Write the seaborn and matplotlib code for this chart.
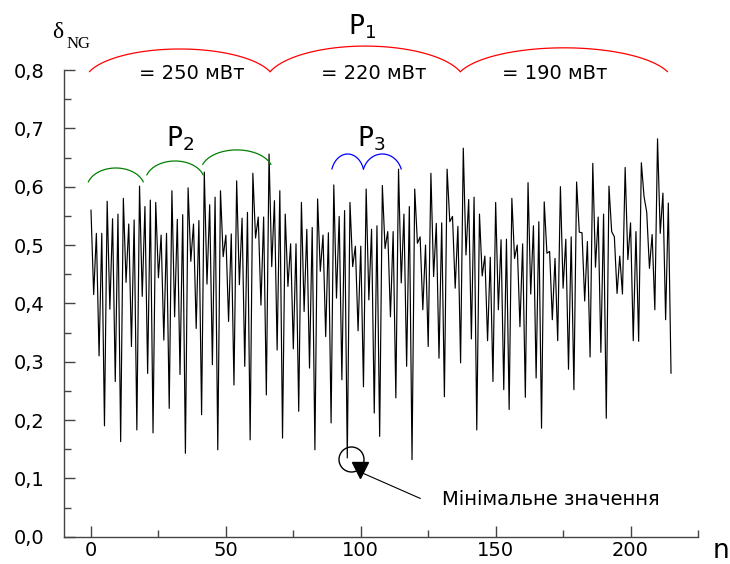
import numpy as np
import pandas as pd
import seaborn as sns
import matplotlib
matplotlib.use('Agg')
import matplotlib.pyplot as plt
from matplotlib.ticker import MultipleLocator, FuncFormatter

delta_ng = [
    0.56, 0.415, 0.52, 0.31, 0.52, 0.19, 0.575, 0.39, 0.545, 0.266,
    0.553, 0.163, 0.58, 0.436, 0.536, 0.326, 0.543, 0.183, 0.601, 0.412,
    0.566, 0.28, 0.577, 0.178, 0.573, 0.444, 0.517,
    0.337, 0.52, 0.22, 0.593, 0.377, 0.544, 0.278, 0.552, 0.143, 0.598,
    0.472, 0.536, 0.357, 0.542, 0.209, 0.625, 0.433, 0.569, 0.295, 0.582,
    0.149, 0.593, 0.48, 0.517, 0.369, 0.519, 0.26, 0.61,
    0.432, 0.546, 0.292, 0.556, 0.166, 0.623, 0.512, 0.548, 0.397, 0.548,
    0.243, 0.656, 0.463, 0.576, 0.32, 0.593, 0.169, 0.553, 0.429, 0.502,
    0.322, 0.502, 0.215, 0.573, 0.386, 0.527, 0.289, 0.53,
    0.149, 0.579, 0.455, 0.517, 0.343, 0.521, 0.195, 0.603, 0.409, 0.549,
    0.269, 0.559, 0.135, 0.573, 0.463, 0.498, 0.353, 0.498, 0.257, 0.596,
    0.406, 0.527, 0.212, 0.533, 0.172, 0.602, 0.494,
    0.523, 0.377, 0.523, 0.238, 0.630, 0.435, 0.553, 0.292, 0.566, 0.132,
    0.596, 0.503, 0.514, 0.389, 0.500, 0.326, 0.623, 0.446, 0.537, 0.306,
    0.538, 0.240, 0.630, 0.540, 0.549, 0.426, 0.532, 0.298,
    0.666, 0.483, 0.578, 0.339, 0.582, 0.183, 0.553, 0.447, 0.481, 0.336,
    0.479, 0.266, 0.573, 0.389, 0.509, 0.252, 0.510, 0.218, 0.580, 0.477,
    0.500, 0.360, 0.502, 0.239, 0.607, 0.416, 0.533, 0.272,
    0.540, 0.186, 0.574, 0.486, 0.489, 0.372, 0.477, 0.336, 0.600, 0.426,
    0.510, 0.287, 0.514, 0.252, 0.608, 0.522, 0.521, 0.404, 0.506, 0.308,
    0.640, 0.462, 0.548, 0.316, 0.553, 0.203, 0.601, 0.523,
    0.514, 0.417, 0.481, 0.416, 0.633, 0.475, 0.538, 0.336, 0.523, 0.335,
    0.641, 0.583, 0.556, 0.460, 0.518, 0.389, 0.682, 0.520, 0.589, 0.372,
    0.572, 0.280,
]
n_index = list(range(len(delta_ng)))

# power levels and their labels
p1_labels = ['= 250 мВт', '= 220 мВт', '= 190 мВт']
min_label = 'Мінімальне значення'
min_n = 95

df = pd.DataFrame({'n': n_index, 'delta': delta_ng})

sns.set_style('ticks')
plt.rcParams['font.family'] = ['DejaVu Sans']
plt.rcParams['mathtext.default'] = 'regular'
plt.rcParams['text.color'] = 'black'

fig = plt.figure(figsize=(7.3, 5.64), dpi=100)
ax = fig.add_axes([64 / 730, 1 - 536.7 / 564, (698 - 64) / 730, (536.7 - 70) / 564])

sns.lineplot(data=df, x='n', y='delta', color='black', linewidth=0.85, ax=ax)

ax.set_xlim(-10, 225)
ax.set_ylim(0, 0.8)
ax.xaxis.set_major_locator(MultipleLocator(50))
ax.xaxis.set_minor_locator(MultipleLocator(25))
ax.yaxis.set_major_locator(MultipleLocator(0.1))
ax.yaxis.set_minor_locator(MultipleLocator(0.05))
ax.yaxis.set_major_formatter(FuncFormatter(lambda v, p: f'{v:.1f}'.replace('.', ',')))
ax.tick_params(which='major', direction='in', length=8, width=1, color='#444444',
               labelsize=14, labelcolor='black')
ax.tick_params(which='minor', direction='in', length=5, width=1, color='#444444')
ax.tick_params(axis='y', which='major', pad=14)
ax.tick_params(axis='x', which='major', pad=3)
ax.set_xlabel('')
ax.set_ylabel('')
for side in ['top', 'right']:
    ax.spines[side].set_visible(False)
for side in ['left', 'bottom']:
    ax.spines[side].set_color('#444444')
    ax.spines[side].set_linewidth(1)


def brace(x0, x1, y_end, y_top, color, th=np.radians(18)):
    # elliptical arc over a range of n
    t = np.linspace(th, np.pi - th, 80)
    a = (x1 - x0) / 2 / np.cos(th)
    b = (y_top - y_end) / (1 - np.sin(th))
    cx = (x0 + x1) / 2
    cy = y_top - b
    ax.plot(cx + a * np.cos(t), cy + b * np.sin(t), color=color, lw=0.9, clip_on=False)


# P1 arcs (red)
brace(-0.6, 66.4, 0.797, 0.836, 'red')
brace(66.4, 136.9, 0.797, 0.841, 'red')
brace(136.9, 213.7, 0.797, 0.838, 'red')
# P2 arcs (green)
brace(-1.0, 19.4, 0.608, 0.632, 'green')
brace(20.7, 41.6, 0.620, 0.644, 'green')
brace(41.4, 66.7, 0.638, 0.663, 'green')
# P3 arcs (blue)
brace(89.3, 101.0, 0.630, 0.656, 'blue')
brace(101.0, 115.0, 0.630, 0.656, 'blue')

for xc, lab in zip([37.4, 104.8, 171.8], p1_labels):
    ax.text(xc, 0.785, lab, fontsize=14, ha='center', va='baseline', color='black')

ax.text(100.4, 0.861, 'P$_1$', fontsize=19, ha='center', va='baseline', clip_on=False, color='black')
ax.text(33.0, 0.669, 'P$_2$', fontsize=19, ha='center', va='baseline', color='black')
ax.text(103.8, 0.669, 'P$_3$', fontsize=19, ha='center', va='baseline', color='black')

# minimum marker and pointer
ax.plot([96.4], [delta_ng[min_n] - 0.001], marker='o', markersize=18, mfc='none',
        mec='black', mew=1, clip_on=False)
ax.plot([122.1, 100.2], [0.0655, 0.110], color='black', lw=0.8)
ax.plot([99.6], [0.114], marker='v', markersize=11, color='black')
ax.text(130.1, 0.054, min_label, fontsize=14, ha='left', va='baseline', color='black')

# axis titles
fig.text(51.7 / 730, 1 - 38.3 / 564, 'δ', fontsize=17, family=['Liberation Serif', 'DejaVu Serif'],
         ha='left', va='baseline', color='black')
fig.text(66.7 / 730, 1 - 48.3 / 564, 'NG', fontsize=12, family=['Liberation Serif', 'DejaVu Serif'],
         ha='left', va='baseline', color='black')
fig.text(713 / 730, 1 - 557.5 / 564, 'n', fontsize=19, ha='left', va='baseline', color='black')

fig.savefig('out.png', dpi=100)
